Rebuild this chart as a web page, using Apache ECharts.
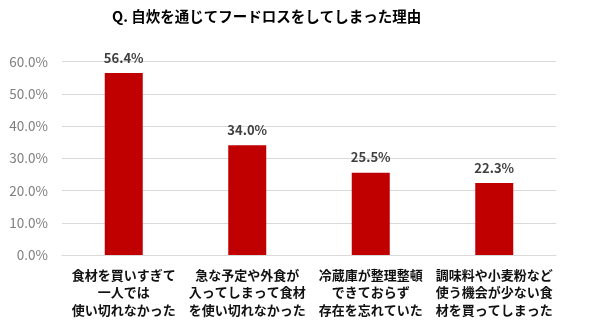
<!DOCTYPE html>
<html><head><meta charset="utf-8">
<script src="https://cdn.jsdelivr.net/npm/echarts@6/dist/echarts.min.js"></script>
<style>html,body{margin:0;padding:0;background:#fff}#c{width:606px;height:329px}</style>
</head><body><div id="c"></div>
<script>
const title = 'Q. 自炊を通じてフードロスをしてしまった理由';
const categories = [
  '食材を買いすぎて\n一人では\n使い切れなかった',
  '急な予定や外食が\n入ってしまって食材\nを使い切れなかった',
  '冷蔵庫が整理整頓\nできておらず\n存在を忘れていた',
  '調味料や小麦粉など\n使う機会が少ない食\n材を買ってしまった'
];
const values = [56.4, 34.0, 25.5, 22.3];
const yTicks = [0, 10, 20, 30, 40, 50, 60];

const font = '"Noto Sans CJK JP", "Noto Sans", sans-serif';
const chart = echarts.init(document.getElementById('c'));
chart.setOption({
  animation: false,
  textStyle: { fontFamily: font },
  title: {
    text: title, left: 107, top: 4,
    textStyle: { fontSize: 14.5, fontWeight: 'bold', color: '#000', fontFamily: font }
  },
  grid: { left: 62, right: 50, top: 61.5, bottom: 74 },
  xAxis: {
    type: 'category', data: categories,
    axisLine: { lineStyle: { color: '#d9d9d9', width: 1 } },
    axisTick: { show: false },
    axisLabel: { interval: 0, fontSize: 13, fontWeight: 'bold', color: '#111', lineHeight: 17.5, margin: 11, fontFamily: font }
  },
  yAxis: {
    type: 'value', min: yTicks[0], max: yTicks[yTicks.length - 1], interval: 10,
    axisLine: { show: false }, axisTick: { show: false },
    splitLine: { lineStyle: { color: '#d9d9d9' } },
    axisLabel: { formatter: v => v.toFixed(1) + '%', fontSize: 13.5, color: '#7f7f7f', margin: 14, fontFamily: font }
  },
  series: [{
    type: 'bar', data: values, barWidth: 38,
    itemStyle: { color: '#C00000' },
    label: { show: true, position: 'top', distance: 9, formatter: p => p.value.toFixed(1) + '%', fontSize: 13, fontWeight: 'bold', color: '#404040', fontFamily: font }
  }]
});
</script></body></html>
